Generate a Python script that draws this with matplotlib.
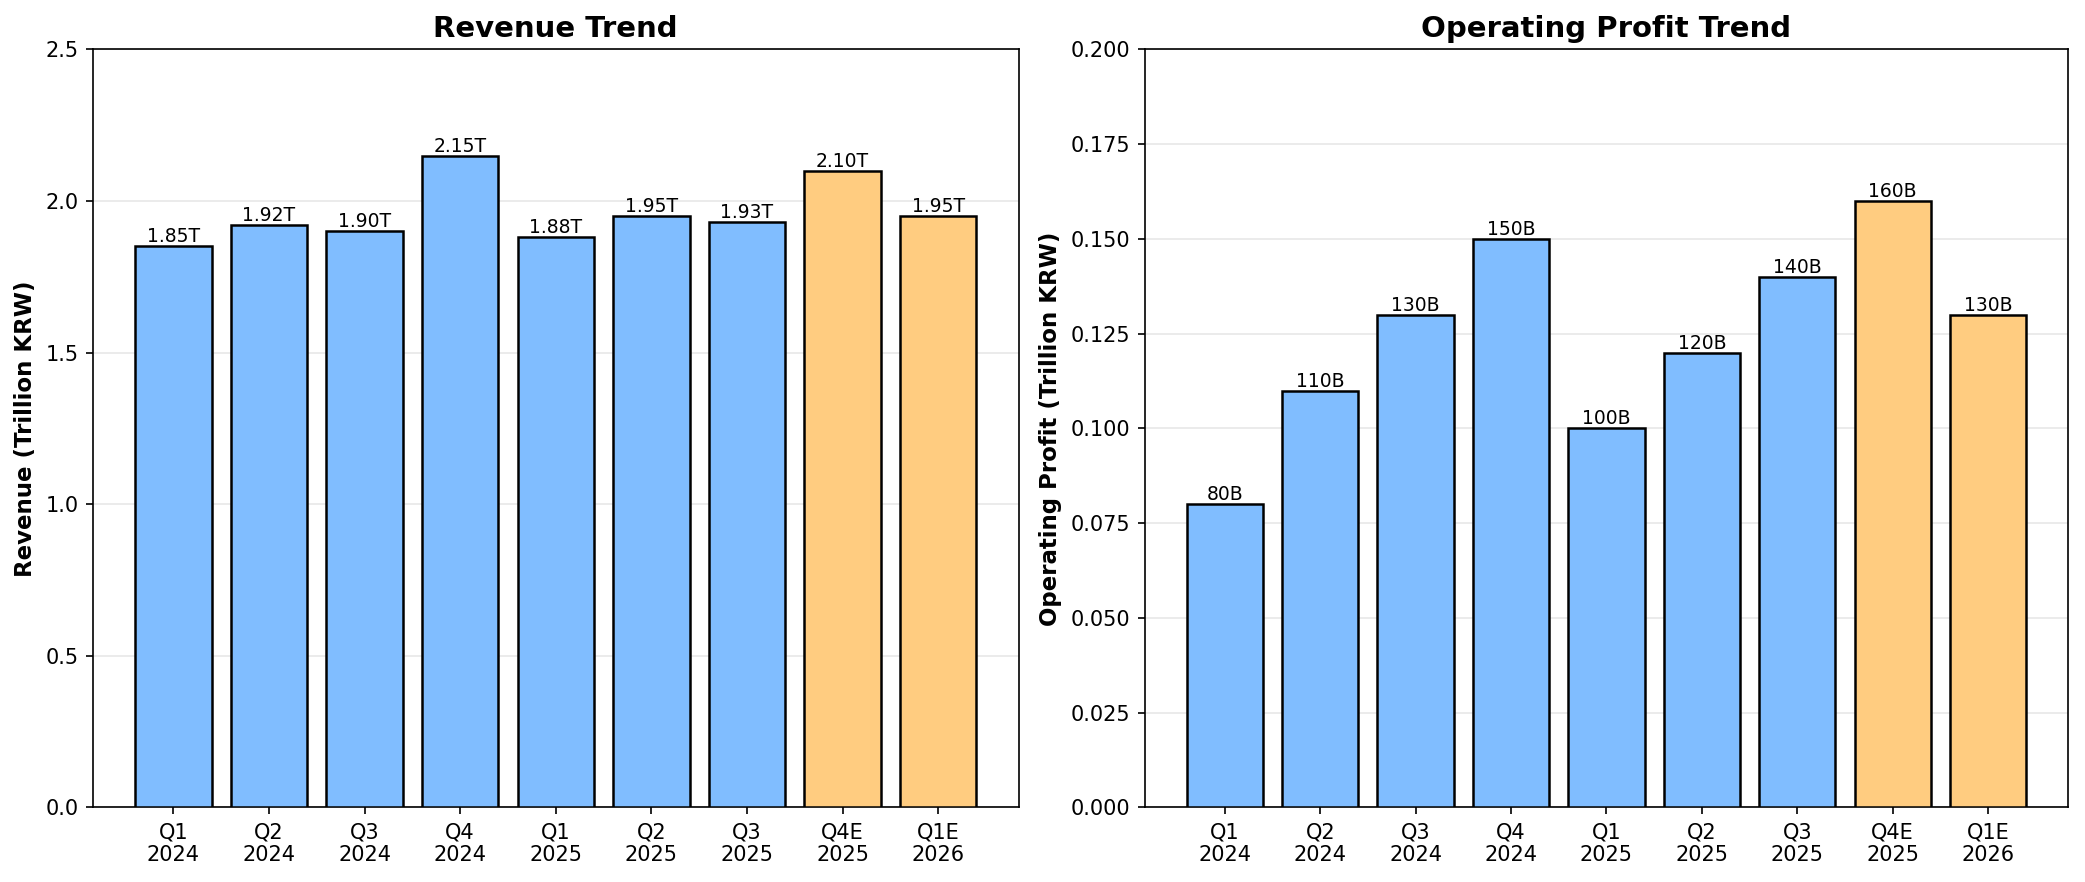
import matplotlib
matplotlib.use("Agg")
import matplotlib.pyplot as plt

quarters = ["Q1\n2024", "Q2\n2024", "Q3\n2024", "Q4\n2024", "Q1\n2025", "Q2\n2025", "Q3\n2025", "Q4E\n2025", "Q1E\n2026"]
revenue = [1.85, 1.92, 1.90, 2.15, 1.88, 1.95, 1.93, 2.10, 1.95]
revenue_labels = ["1.85T", "1.92T", "1.90T", "2.15T", "1.88T", "1.95T", "1.93T", "2.10T", "1.95T"]
profit = [0.080, 0.110, 0.130, 0.150, 0.100, 0.120, 0.140, 0.160, 0.130]
profit_labels = ["80B", "110B", "130B", "150B", "100B", "120B", "140B", "160B", "130B"]
is_estimate = [False] * 7 + [True] * 2

blue = "#80bdff"
orange = "#ffcc80"
colors = [orange if e else blue for e in is_estimate]

fig = plt.figure(figsize=(13.9, 5.88), dpi=150)
ax1 = fig.add_axes([0.0446, 0.0845, 0.4439, 0.8595])
ax2 = fig.add_axes([0.549, 0.0845, 0.443, 0.8595])

def draw(ax, vals, labels, title, ylabel, ylim):
    x = range(len(quarters))
    bars = ax.bar(x, vals, color=colors, edgecolor="black", linewidth=1.2, zorder=3)
    for b, lab in zip(bars, labels):
        ax.text(b.get_x() + b.get_width() / 2, b.get_height(), lab,
                ha="center", va="bottom", fontsize=9, zorder=4)
    ax.set_xticks(list(x))
    ax.set_xticklabels(quarters, fontsize=10)
    ax.set_ylim(*ylim)
    ax.set_title(title, fontsize=14, fontweight="bold")
    ax.set_ylabel(ylabel, fontsize=11, fontweight="bold")
    ax.yaxis.grid(True, alpha=0.3, zorder=0)
    ax.tick_params(axis="y", labelsize=10)

draw(ax1, revenue, revenue_labels, "Revenue Trend", "Revenue (Trillion KRW)", (0, 2.5))
draw(ax2, profit, profit_labels, "Operating Profit Trend", "Operating Profit (Trillion KRW)", (0, 0.2))
ax2.set_yticks([0.0, 0.025, 0.05, 0.075, 0.1, 0.125, 0.15, 0.175, 0.2])
ax2.set_yticklabels(["0.000", "0.025", "0.050", "0.075", "0.100", "0.125", "0.150", "0.175", "0.200"])

fig.savefig("out.png", dpi=150)
